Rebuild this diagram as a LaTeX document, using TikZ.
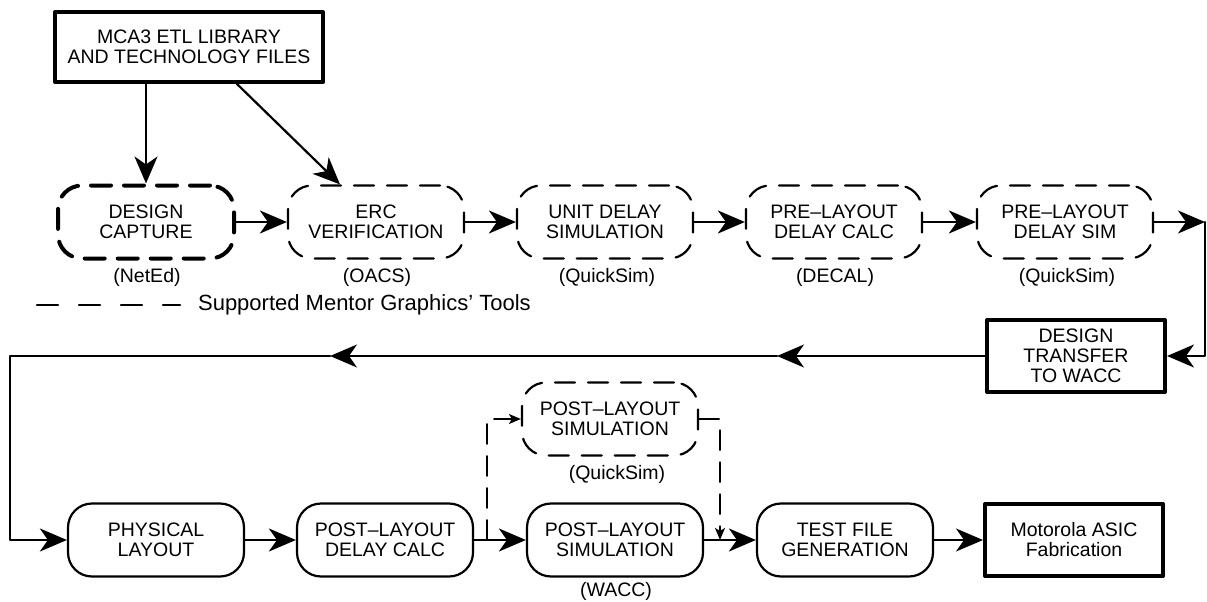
\documentclass[tikz,border=0pt]{standalone}
\usepackage{fontspec}
\setmainfont{Liberation Sans}
\usetikzlibrary{arrows.meta,positioning}

\begin{document}
\begin{tikzpicture}[line cap=round,line join=round,x=1pt,y=-1pt,line width=2.2pt,
	tip/.style={-{Stealth[length=27pt,width=23pt,inset=8pt]}},
	smalltip/.style={-{Stealth[length=12pt,width=10pt,inset=3pt]}},
	lbl/.style={font=\fontsize{19.5}{20}\selectfont,align=center},
	toolbox/.style={lbl,draw,rounded corners=24pt,dash pattern=on 20pt off 13pt,minimum width=176pt,minimum height=73pt,inner sep=0pt},
	stepbox/.style={lbl,draw,rounded corners=24pt,minimum width=176pt,minimum height=73pt,inner sep=0pt},
	heavybox/.style={lbl,draw,line width=4pt,minimum width=178pt,minimum height=72pt,inner sep=0pt},
	toolname/.style={lbl},
	fbdash/.style={line width=1.6pt,dash pattern=on 20pt off 12pt}]
			\useasboundingbox (0,0) rectangle (1207,602);
			% library and the pre-layout steps
			\node[heavybox,minimum width=268pt,minimum height=70pt] (lib) at (189,47) {MCA3 ETL LIBRARY\\AND TECHNOLOGY FILES};
			\node[toolbox,line width=4pt] (capture) at (146,222) {DESIGN\\CAPTURE};
			\node[toolbox] (erc) at (376,222) {ERC\\VERIFICATION};
			\node[toolbox] (unitsim) at (605,222) {UNIT DELAY\\SIMULATION};
			\node[toolbox] (precalc) at (834,222) {PRE--LAYOUT\\DELAY CALC};
			\node[toolbox] (presim) at (1065,222) {PRE--LAYOUT\\DELAY SIM};
			\node[toolname] (captureby) at (147,277) {(NetEd)};
			\node[toolname] (ercby) at (377,277) {(OACS)};
			\node[toolname] (unitsimby) at (607,277) {(QuickSim)};
			\node[toolname] (precalcby) at (835,277) {(DECAL)};
			\node[toolname] (presimby) at (1067,277) {(QuickSim)};
			\node[lbl,font=\fontsize{22}{24}\selectfont,anchor=west,inner sep=0pt] (legend) at (197,305) {Supported Mentor Graphics' Tools};
			\draw[dash pattern=on 21pt off 21pt] (37,305) -- ([xshift=-17pt]legend.west);
			% transfer and the post-layout steps
			\node[heavybox] (transfer) at (1076,356) {DESIGN\\TRANSFER\\TO WACC};
			\node[stepbox] (physical) at (156,540) {PHYSICAL\\LAYOUT};
			\node[stepbox] (postcalc) at (385,540) {POST--LAYOUT\\DELAY CALC};
			\node[stepbox] (postsim) at (615,540) {POST--LAYOUT\\SIMULATION};
			\node[toolbox] (postsimq) at (610,419) {POST--LAYOUT\\SIMULATION};
			\node[stepbox] (testfile) at (845,540) {TEST FILE\\GENERATION};
			\node[heavybox] (fab) at (1074,540) {Motorola ASIC\\Fabrication};
			\node[toolname] (postsimqby) at (617,474) {(QuickSim)};
			\node[toolname] (postsimby) at (616,591) {(WACC)};
			% connectors
			\coordinate (rtop) at (1205,222);
			\coordinate (ret1) at (777,356);
			\coordinate (ret2) at (330,356);
			\coordinate (retc) at (10,356);
			\coordinate (fbin) at (487,540);
			\coordinate (fbout) at (720,540);
			\draw[tip] (lib.south -| capture.north) -- (capture.north);
			\draw[tip] ([xshift=48pt]lib.south) -- ([xshift=-36pt]erc.north);
			\foreach \a/\b in {capture/erc,erc/unitsim,unitsim/precalc,precalc/presim,physical/postcalc,postcalc/postsim,postsim/testfile,testfile/fab}
				\draw[tip] (\a) -- (\b);
			\draw[tip] (presim.east) -- (rtop);
			\draw[tip] (rtop) |- (transfer.east);
			\draw[tip] (transfer.west) -- (ret1);
			\draw[tip] (ret1) -- (ret2);
			\draw[tip] (ret2) -- (retc) |- (physical.west);
			\draw[smalltip,fbdash] (fbin) |- (postsimq.west);
			\draw[smalltip,fbdash] (postsimq.east) -| (fbout);
\end{tikzpicture}
\end{document}
